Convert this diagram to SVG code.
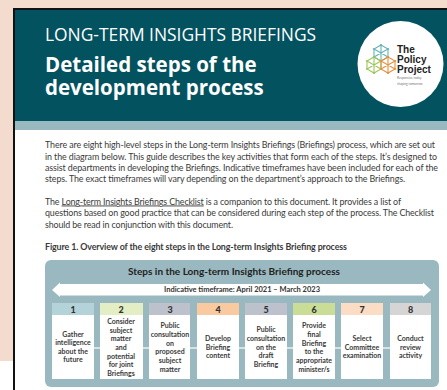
<svg xmlns="http://www.w3.org/2000/svg" width="447" height="390" viewBox="0 0 447 390">
<style>
text{font-family:Lato,"Liberation Sans",sans-serif}
.title{font-family:"Open Sans","Liberation Sans",sans-serif;fill:#fff}
.b{font-size:8.9px;fill:#3a3a3a}
.s{font-size:7px;font-weight:700;fill:#3a3a3a;text-anchor:middle}
.n{font-size:9px;font-weight:900;fill:#333;text-anchor:middle}
.card{fill:#fff}
.hex{fill:none;stroke-width:1.1}
.lg{font-family:"Liberation Sans",sans-serif;font-size:10px;font-weight:700;fill:#222}
.tag{font-size:3.2px;fill:#777}
</style>
<defs>
<g id="hx"><path d="M0-8L7-4V4L0 8L-7 4V-4Z M0-8V8 M-7-4L7 4 M7-4L-7 4"/><g stroke="none" fill="currentColor"><circle cx="0" cy="-8" r="1.1"/><circle cx="7" cy="-4" r="1.1"/><circle cx="7" cy="4" r="1.1"/><circle cx="0" cy="8" r="1.1"/><circle cx="-7" cy="4" r="1.1"/><circle cx="-7" cy="-4" r="1.1"/></g></g>
</defs>
<rect width="447" height="390" fill="#fff"/>
<rect width="447" height="8" fill="#f3dccd"/>
<rect width="13" height="361" fill="#f3dccd"/>
<rect x="13" y="8" width="434" height="2" fill="#111"/>
<rect x="13" y="8" width="2" height="382" fill="#111"/>
<rect x="15" y="10" width="432" height="111" fill="#03525f"/>
<rect x="15" y="121" width="432" height="9" fill="#9ab8bf"/>
<text class="title" x="45" y="41" font-size="17.4">LONG-TERM INSIGHTS BRIEFINGS</text>
<text class="title" x="45" y="71.5" font-size="20.5" font-weight="700">Detailed steps of the</text>
<text class="title" x="45" y="95" font-size="20.5" font-weight="700">development process</text>
<g id="logo">
<circle cx="400.5" cy="64" r="43" fill="#fff"/>
<use href="#hx" x="381" y="53" class="hex" stroke="#63b4b4" color="#63b4b4"/>
<use href="#hx" x="374" y="65" class="hex" stroke="#9cc65b" color="#9cc65b"/>
<use href="#hx" x="388" y="65" class="hex" stroke="#e8903e" color="#e8903e"/>
<text class="lg" x="397" y="52.5">The</text>
<text class="lg" x="397" y="63">Policy</text>
<text class="lg" x="397" y="73">Project</text>
<text class="tag" x="397" y="79">Responsive today,</text>
<text class="tag" x="397" y="84.5">shaping tomorrow</text>
</g>
<g id="body-text">
<text class="b" x="45" y="148" textLength="390">There are eight high-level steps in the Long-term Insights Briefings (Briefings) process, which are set out</text>
<text class="b" x="45" y="159.5" textLength="392">in the diagram below. This guide describes the key activities that form each of the steps. It’s designed to</text>
<text class="b" x="45" y="171" textLength="393">assist departments in developing the Briefings. Indicative timeframes have been included for each of the</text>
<text class="b" x="45" y="182" textLength="360">steps. The exact timeframes will vary depending on the department’s approach to the Briefings.</text>
<text class="b" x="45" y="204.5" textLength="356">The <tspan text-decoration="underline">Long-term Insights Briefings Checklist</tspan> is a companion to this document. It provides a list of</text>
<text class="b" x="45" y="216" textLength="389">questions based on good practice that can be considered during each step of the process. The Checklist</text>
<text class="b" x="45" y="227.5" textLength="188">should be read in conjunction with this document.</text>
<text class="b" x="45" y="250" textLength="302" font-weight="700">Figure 1. Overview of the eight steps in the Long-term Insights Briefing process</text>
</g>
<g id="panel">
<rect x="45" y="260" width="394" height="127" rx="6" fill="#9ab8bf"/>
<text x="128" y="275" font-size="10" font-weight="700" fill="#222" textLength="212">Steps in the Long-term Insights Briefing process</text>
<path d="M52 290L60 282.500V284H423V282.500L431 290L423 297V295.500H60V297Z" fill="#fff"/>
<text x="164" y="292" font-size="7.500" font-weight="700" fill="#333" textLength="156">Indicative timeframe: April 2021 – March 2023</text>
</g>
<g id="connectors"><path d="M94 348H390" stroke="#fff" stroke-width="1.500" fill="none" opacity=".8"/></g>
<g id="step1"><rect x="52" y="303" width="42" height="12" fill="#b3d3d8"/><rect class="card" x="52" y="315" width="42" height="64"/><text class="n" x="73" y="312.500">1</text><text class="s" x="73" y="336.500">Gather</text><text class="s" x="73" y="345">intelligence</text><text class="s" x="73" y="353.500">about the</text><text class="s" x="73" y="362">future</text></g>
<g id="step2"><rect x="100" y="303" width="43" height="12" fill="#e3eec4"/><rect class="card" x="100" y="315" width="43" height="64"/><text class="n" x="121" y="312.500">2</text><text class="s" x="121" y="324">Consider</text><text class="s" x="121" y="333">subject</text><text class="s" x="121" y="341">matter</text><text class="s" x="121" y="350">and</text><text class="s" x="121" y="358.500">potential</text><text class="s" x="121" y="367">for joint</text><text class="s" x="121" y="375.500">Briefings</text></g>
<g id="step3"><rect x="149" y="303" width="41" height="12" fill="#bcc1cb"/><rect class="card" x="149" y="315" width="41" height="64"/><text class="n" x="170" y="312.500">3</text><text class="s" x="170" y="328">Public</text><text class="s" x="170" y="337">consultation</text><text class="s" x="170" y="345.500">on</text><text class="s" x="170" y="354">proposed</text><text class="s" x="170" y="363">subject</text><text class="s" x="170" y="371.500">matter</text></g>
<g id="step4"><rect x="197" y="303" width="42" height="12" fill="#f9c9a0"/><rect class="card" x="197" y="315" width="42" height="64"/><text class="n" x="218" y="312.500">4</text><text class="s" x="218" y="341">Develop</text><text class="s" x="218" y="350">Briefing</text><text class="s" x="218" y="358">content</text></g>
<g id="step5"><rect x="245" y="303" width="42" height="12" fill="#bcc1cb"/><rect class="card" x="245" y="315" width="42" height="64"/><text class="n" x="266" y="312.500">5</text><text class="s" x="266" y="332">Public</text><text class="s" x="266" y="341">consultation</text><text class="s" x="266" y="349.500">on the</text><text class="s" x="266" y="358">draft</text><text class="s" x="266" y="367">Briefing</text></g>
<g id="step6"><rect x="293" y="303" width="42" height="12" fill="#c9dd96"/><rect class="card" x="293" y="315" width="42" height="64"/><text class="n" x="314" y="312.500">6</text><text class="s" x="314" y="328">Provide</text><text class="s" x="314" y="337">final</text><text class="s" x="314" y="345.500">Briefing</text><text class="s" x="314" y="354">to the</text><text class="s" x="314" y="363">appropriate</text><text class="s" x="314" y="371.500">minister/s</text></g>
<g id="step7"><rect x="341" y="303" width="42" height="12" fill="#fbdcc4"/><rect class="card" x="341" y="315" width="42" height="64"/><text class="n" x="362" y="312.500">7</text><text class="s" x="362" y="341">Select</text><text class="s" x="362" y="350">Committee</text><text class="s" x="362" y="358">examination</text></g>
<g id="step8"><rect x="390" y="303" width="41" height="12" fill="#d5d5d5"/><rect class="card" x="390" y="315" width="41" height="64"/><text class="n" x="410.500" y="312.500">8</text><text class="s" x="410.500" y="341">Conduct</text><text class="s" x="410.500" y="350">review</text><text class="s" x="410.500" y="358">activity</text></g>
</svg>
